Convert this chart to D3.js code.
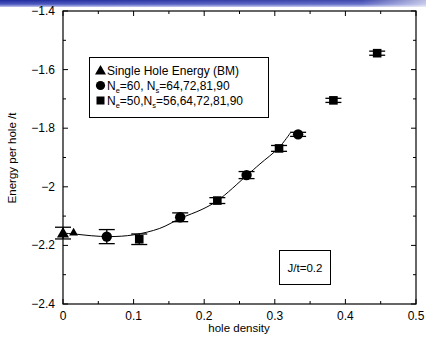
<!DOCTYPE html>
<html>
<head>
<meta charset="utf-8">
<script src="https://cdn.jsdelivr.net/npm/d3@7"></script>
<style>
  html, body { margin: 0; padding: 0; background: #fff; }
  svg { display: block; font-family: "Liberation Sans", Arial, sans-serif; }
</style>
</head>
<body>
<svg id="chart" width="426" height="338"></svg>
<script>
// Single hole energy (BM)
const triX = [0, 0.015];
const triY = [-2.158, -2.155];
const triErr = [0.02, 0];
const triSize = [11, 8];

// Ne = 60, Ns = 64,72,81,90
const circX = [0.062, 0.166, 0.260, 0.333];
const circY = [-2.170, -2.104, -1.960, -1.821];
const circErr = [0.024, 0.015, 0.012, 0.007];

// Ne = 50, Ns = 56,64,72,81,90
const sqX = [0.108, 0.2186, 0.306, 0.383, 0.445];
const sqY = [-2.179, -2.047, -1.869, -1.705, -1.544];
const sqErr = [0.018, 0.01, 0.01, 0.007, 0.007];

// Fitted curve through the low-density points
const fitX = [0, 0.02, 0.04, 0.067, 0.1, 0.137, 0.166, 0.197, 0.219, 0.26, 0.279, 0.306, 0.322];
const fitY = [-2.158, -2.162, -2.167, -2.170, -2.164, -2.142, -2.108, -2.077, -2.047, -1.962, -1.922, -1.866, -1.816];

const xTicks = [0, 0.1, 0.2, 0.3, 0.4, 0.5];
const xTickLabels = ["0", "0.1", "0.2", "0.3", "0.4", "0.5"];
const yTicks = [-2.4, -2.2, -2.0, -1.8, -1.6, -1.4];
const yTickLabels = ["\u22122.4", "\u22122.2", "\u22122", "\u22121.8", "\u22121.6", "\u22121.4"];
const xMinor = [0.05, 0.15, 0.25, 0.35, 0.45];
const yMinor = [-2.3, -2.1, -1.9, -1.7, -1.5];

const svg = d3.select("#chart");

// header band
const defs = svg.append("defs");
const g1 = defs.append("linearGradient").attr("id", "band").attr("x1", 0).attr("y1", 0).attr("x2", 0).attr("y2", 1);
g1.append("stop").attr("offset", "0%").attr("stop-color", "#1f2a9c");
g1.append("stop").attr("offset", "60%").attr("stop-color", "#4d58c0");
g1.append("stop").attr("offset", "100%").attr("stop-color", "#c4c8ec");
const g2 = defs.append("linearGradient").attr("id", "fade").attr("x1", 0).attr("y1", 0).attr("x2", 1).attr("y2", 0);
g2.append("stop").attr("offset", "0%").attr("stop-color", "#fff").attr("stop-opacity", 0);
g2.append("stop").attr("offset", "85%").attr("stop-color", "#fff").attr("stop-opacity", 0.15);
g2.append("stop").attr("offset", "100%").attr("stop-color", "#fff").attr("stop-opacity", 0.7);
svg.append("rect").attr("x", 0).attr("y", 0).attr("width", 426).attr("height", 7).attr("fill", "url(#band)");
svg.append("rect").attr("x", 0).attr("y", 0).attr("width", 426).attr("height", 7).attr("fill", "url(#fade)");

const L = 63, R = 416, T = 11, B = 304;
const x = d3.scaleLinear().domain([0, 0.5]).range([L, R]);
const y = d3.scaleLinear().domain([-2.4, -1.4]).range([B, T]);

// frame
svg.append("rect").attr("x", L).attr("y", T).attr("width", R - L).attr("height", B - T)
  .attr("fill", "none").attr("stroke", "#000").attr("stroke-width", 1.2);

// ticks (inward on all sides)
const tk = svg.append("g").attr("stroke", "#000").attr("stroke-width", 1);
xTicks.forEach(v => {
  tk.append("line").attr("x1", x(v)).attr("x2", x(v)).attr("y1", B).attr("y2", B - 5);
  tk.append("line").attr("x1", x(v)).attr("x2", x(v)).attr("y1", T).attr("y2", T + 5);
});
xMinor.forEach(v => {
  tk.append("line").attr("x1", x(v)).attr("x2", x(v)).attr("y1", B).attr("y2", B - 3);
  tk.append("line").attr("x1", x(v)).attr("x2", x(v)).attr("y1", T).attr("y2", T + 3);
});
yTicks.forEach(v => {
  tk.append("line").attr("x1", L).attr("x2", L + 5).attr("y1", y(v)).attr("y2", y(v));
  tk.append("line").attr("x1", R).attr("x2", R - 5).attr("y1", y(v)).attr("y2", y(v));
});
yMinor.forEach(v => {
  tk.append("line").attr("x1", L).attr("x2", L + 3).attr("y1", y(v)).attr("y2", y(v));
  tk.append("line").attr("x1", R).attr("x2", R - 3).attr("y1", y(v)).attr("y2", y(v));
});

// tick labels
svg.append("g").selectAll("text").data(xTicks).join("text")
  .attr("x", d => x(d)).attr("y", B + 16).attr("text-anchor", "middle")
  .attr("font-size", 12).attr("fill", "#000").text((d, i) => xTickLabels[i]);
svg.append("g").selectAll("text").data(yTicks).join("text")
  .attr("x", L - 8).attr("y", d => y(d) + 4).attr("text-anchor", "end")
  .attr("font-size", 12).attr("fill", "#000").text((d, i) => yTickLabels[i]);

// axis titles
svg.append("text").attr("x", 239).attr("y", 332).attr("text-anchor", "middle")
  .attr("font-size", 11.5).text("hole density");
svg.append("text").attr("transform", "translate(16,158) rotate(-90)").attr("text-anchor", "middle")
  .attr("font-size", 11.5).text("Energy per hole /t");

// fitted curve
const line = d3.line().x(d => x(d[0])).y(d => y(d[1])).curve(d3.curveCatmullRom);
svg.append("path").datum(fitX.map((v, i) => [v, fitY[i]]))
  .attr("d", line).attr("fill", "none").attr("stroke", "#000").attr("stroke-width", 1);

// error bars
function errorBars(xs, ys, es) {
  const g = svg.append("g").attr("stroke", "#000").attr("stroke-width", 1.3);
  xs.forEach((xv, i) => {
    if (!es[i]) return;
    const cx = x(xv), top = y(ys[i] + es[i]), bot = y(ys[i] - es[i]);
    g.append("line").attr("x1", cx).attr("x2", cx).attr("y1", top).attr("y2", bot);
    g.append("line").attr("x1", cx - 8).attr("x2", cx + 8).attr("y1", top).attr("y2", top);
    g.append("line").attr("x1", cx - 8).attr("x2", cx + 8).attr("y1", bot).attr("y2", bot);
  });
}
errorBars(triX, triY, triErr);
errorBars(circX, circY, circErr);
errorBars(sqX, sqY, sqErr);

// markers
const tri = s => `M0,${-s * 0.55}L${s * 0.55},${s * 0.4}L${-s * 0.55},${s * 0.4}Z`;
svg.append("g").selectAll("path").data(triX).join("path")
  .attr("transform", (d, i) => `translate(${x(d)},${y(triY[i])})`)
  .attr("d", (d, i) => tri(triSize[i])).attr("fill", "#000");
svg.append("g").selectAll("circle").data(circX).join("circle")
  .attr("cx", d => x(d)).attr("cy", (d, i) => y(circY[i])).attr("r", 5.2).attr("fill", "#000");
svg.append("g").selectAll("rect").data(sqX).join("rect")
  .attr("x", d => x(d) - 4.3).attr("y", (d, i) => y(sqY[i]) - 4.3)
  .attr("width", 8.6).attr("height", 8.6).attr("fill", "#000");

// legend
const lg = svg.append("g");
lg.append("rect").attr("x", 89.5).attr("y", 57.5).attr("width", 179).attr("height", 60)
  .attr("fill", "#fff").attr("stroke", "#000").attr("stroke-width", 1);
lg.append("path").attr("transform", "translate(100.5,70.5)").attr("d", tri(10)).attr("fill", "#000");
lg.append("circle").attr("cx", 100.5).attr("cy", 85.5).attr("r", 4.6).attr("fill", "#000");
lg.append("rect").attr("x", 96.5).attr("y", 96.5).attr("width", 8).attr("height", 8).attr("fill", "#000");
lg.append("text").attr("x", 107).attr("y", 75).attr("font-size", 12).text("Single Hole Energy (BM)");
const t2 = lg.append("text").attr("x", 107).attr("y", 90).attr("font-size", 12);
t2.append("tspan").text("N");
t2.append("tspan").attr("font-size", 7.5).attr("dy", 2.5).text("e");
t2.append("tspan").attr("dy", -2.5).text("=60, N");
t2.append("tspan").attr("font-size", 7.5).attr("dy", 2.5).text("s");
t2.append("tspan").attr("dy", -2.5).text("=64,72,81,90");
const t3 = lg.append("text").attr("x", 107).attr("y", 105).attr("font-size", 12);
t3.append("tspan").text("N");
t3.append("tspan").attr("font-size", 7.5).attr("dy", 2.5).text("e");
t3.append("tspan").attr("dy", -2.5).text("=50,N");
t3.append("tspan").attr("font-size", 7.5).attr("dy", 2.5).text("s");
t3.append("tspan").attr("dy", -2.5).text("=56,64,72,81,90");

// parameter box
svg.append("rect").attr("x", 279.5).attr("y", 250.5).attr("width", 51).attr("height", 34)
  .attr("fill", "#fff").attr("stroke", "#000").attr("stroke-width", 1);
svg.append("text").attr("x", 305).attr("y", 271.5).attr("text-anchor", "middle")
  .attr("font-size", 11.5).text("J/t=0.2");
</script>
</body>
</html>
